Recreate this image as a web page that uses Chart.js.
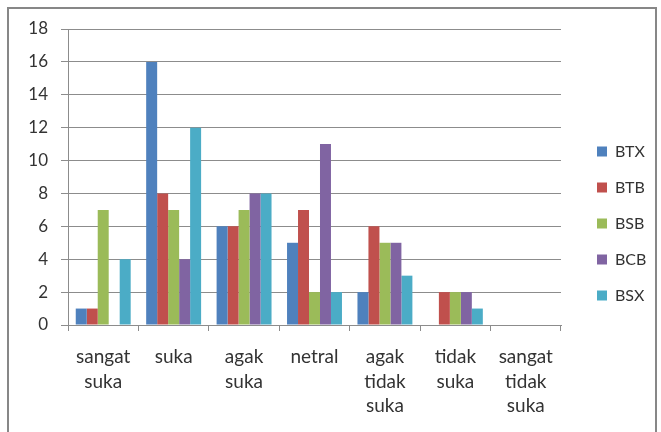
<!DOCTYPE html>
<html>
<head>
<meta charset="utf-8">
<script src="https://cdn.jsdelivr.net/npm/chart.js@4.4.0/dist/chart.umd.min.js"></script>
<style>
    html, body { margin: 0; padding: 0; background: #fff; }
    #frame { position: absolute; left: 7px; top: 7px; width: 646px; height: 440px; border: 2px solid #878787; }
    canvas { display: block; }
</style>
</head>
<body>
<div id="frame"><canvas id="surveyChart" width="646" height="423"></canvas></div>
<script>
const categories = [
    ['sangat', 'suka'], ['suka'], ['agak', 'suka'], ['netral'],
    ['agak', 'tidak', 'suka'], ['tidak', 'suka'], ['sangat', 'tidak', 'suka']
];
const btx = [1, 16, 6, 5, 2, 0, 0];
const btb = [1, 8, 6, 7, 6, 2, 0];
const bsb = [7, 7, 7, 2, 5, 2, 0];
const bcb = [0, 4, 8, 11, 5, 2, 0];
const bsx = [4, 12, 8, 2, 3, 1, 0];
const yTicks = [0, 2, 4, 6, 8, 10, 12, 14, 16, 18];

const seriesNames = ['BTX', 'BTB', 'BSB', 'BCB', 'BSX'];
const seriesValues = [btx, btb, bsb, bcb, bsx];
const seriesColors = ['#4f81bd', '#c0504d', '#9bbb59', '#8064a2', '#4bacc6'];

const gridColor = '#8c8c8c';
const textColor = '#333333';

// fixed legend width, legend drawn a bit right of and above its slot
const legendBox = {
    id: 'legendBox',
    beforeLayout(chart) {
        const legend = chart.legend;
        if (legend && !legend._fixedWidth) {
            const fit = legend.fit;
            legend.fit = function () {
                fit.call(this);
                this.width = 94;
            };
            legend._fixedWidth = true;
        }
    },
    afterLayout(chart) {
        if (chart.legend) {
            chart.legend.left += 16;
            chart.legend.right += 16;
            chart.legend.top -= 7;
            chart.legend.bottom -= 7;
        }
    }
};

const ctx = document.getElementById('surveyChart').getContext('2d');
new Chart(ctx, {
    type: 'bar',
    data: {
        labels: categories,
        datasets: seriesNames.map((name, i) => ({
            label: name,
            data: seriesValues[i],
            backgroundColor: seriesColors[i],
            borderWidth: 0,
            categoryPercentage: 0.78,
            barPercentage: 1
        }))
    },
    options: {
        responsive: false,
        animation: false,
        layout: { padding: { top: 20, left: 0, right: 0, bottom: 0 } },
        plugins: {
            legend: {
                position: 'right',
                labels: {
                    boxWidth: 10,
                    boxHeight: 10,
                    padding: 20,
                    color: textColor,
                    font: { family: 'Lato', size: 16 }
                }
            },
            tooltip: { enabled: false }
        },
        scales: {
            x: {
                offset: true,
                grid: {
                    offset: true,
                    drawOnChartArea: false,
                    drawTicks: true,
                    tickLength: 6,
                    color: gridColor
                },
                border: { color: gridColor },
                ticks: {
                    color: textColor,
                    padding: 14,
                    maxRotation: 0,
                    autoSkip: false,
                    font: { family: 'Lato', size: 19, lineHeight: 1.28 }
                },
                afterFit(scale) { scale.height = 107; }
            },
            y: {
                min: 0,
                max: 18,
                afterBuildTicks(scale) { scale.ticks = yTicks.map(v => ({ value: v })); },
                grid: { color: gridColor, tickLength: 7 },
                border: { color: gridColor },
                ticks: {
                    color: textColor,
                    padding: 13,
                    font: { family: 'Lato', size: 17 }
                },
                afterFit(scale) {
                    scale.width = 59;
                    scale.paddingTop = 0;
                    scale.paddingBottom = 0;
                }
            }
        }
    },
    plugins: [legendBox]
});
</script>
</body>
</html>
